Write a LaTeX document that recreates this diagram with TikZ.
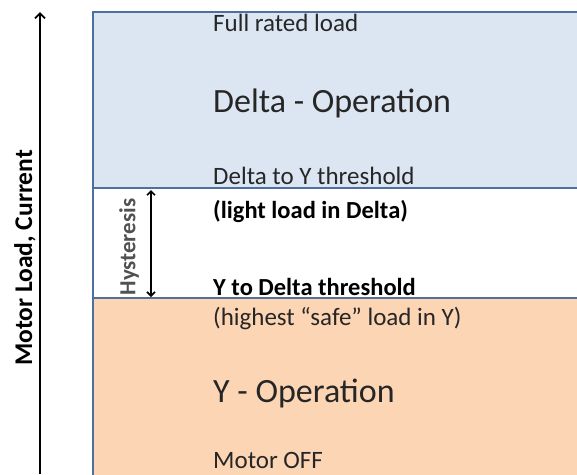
\documentclass[tikz,border=0pt]{standalone}
\usepackage{fontspec}
\setmainfont{Carlito}
\usetikzlibrary{arrows.meta,positioning}
\definecolor{bandblue}{RGB}{220,230,242}
\definecolor{bandorange}{RGB}{252,213,181}
\definecolor{edgeblue}{RGB}{79,112,158}
\definecolor{txtgray}{RGB}{38,38,38}
\begin{document}
\begin{tikzpicture}[x=1pt,y=-1pt,
  every node/.style={inner sep=0pt},
  edge/.style={draw=edgeblue, line width=2.5pt},
  lab/.style={font=\fontsize{25}{28}\selectfont, text=txtgray, anchor=base west},
  boldlab/.style={font=\fontsize{24.5}{28}\selectfont\bfseries, text=black, anchor=base west},
  biglab/.style={font=\fontsize{34}{38}\selectfont, text=txtgray, anchor=base west}
]
  \useasboundingbox (0,0) rectangle (577,474);
  \clip (0,0) rectangle (577,474);

  % bands
  \fill[bandblue] (93,12) rectangle (600,188);
  \fill[bandorange] (93,298) rectangle (600,480);
  \draw[edge] (600,12) -- (93,12) -- (93,480);
  \draw[edge] (93,188) -- (600,188);
  \draw[edge] (93,298) -- (600,298);

  % band texts
  \node[lab] (full) at (213,31) {Full rated load};
  \node[biglab] (delta) at (213,112) {Delta - Operation};
  \node[lab] (dtoy) at (213,184) {Delta to Y threshold};
  \node[boldlab] (light) at (213,218) {(light load in Delta)};
  \node[boldlab] (ytod) at (213,295) {Y to Delta threshold};
  \node[lab] (safe) at (213,325) {(highest ``safe'' load in Y)};
  \node[biglab] (yop) at (213,402) {Y - Operation};
  \node[lab] (off) at (213,468) {Motor OFF};

  % load axis
  \coordinate (axbot) at (40,474);
  \coordinate (axtop) at (40,12);
  \draw[line width=1.8pt, -{Straight Barb[length=5pt]}] (axbot) -- (axtop);
  \node[font=\fontsize{25.5}{28}\selectfont\bfseries, rotate=90] (axlab) at (25,258) {Motor Load, Current};

  % hysteresis
  \coordinate (hyhi) at (151,190);
  \coordinate (hylo) at (151,297);
  \draw[line width=1.6pt, {Straight Barb[length=4pt]}-{Straight Barb[length=4pt]}] (hyhi) -- (hylo);
  \node[font=\fontsize{23}{26}\selectfont\bfseries, text=txtgray!80, rotate=90] (hylab) at (129,247) {Hysteresis};
\end{tikzpicture}
\end{document}
